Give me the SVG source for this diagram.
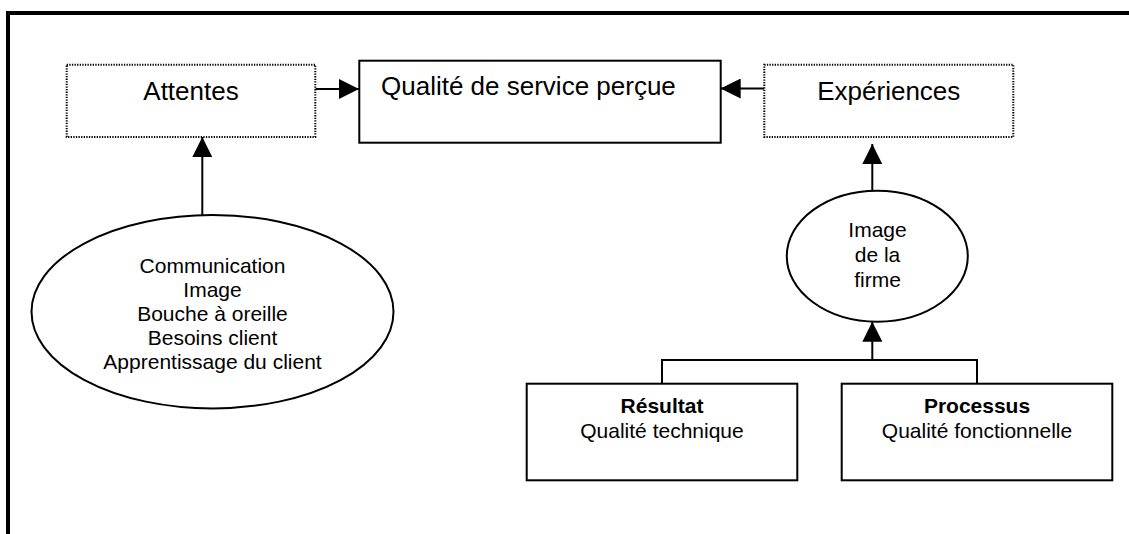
<svg xmlns="http://www.w3.org/2000/svg" width="1129" height="534" viewBox="0 0 1129 534">
  <style>
    text { font-family: "Liberation Sans", Arial, sans-serif; fill: #000; }
    .big { font-size: 26px; }
    .small { font-size: 21px; }
    .bold { font-weight: bold; }
    .mid { text-anchor: middle; }
    .dotted { fill: #fff; stroke: #000; stroke-width: 2; stroke-dasharray: 1.3 1.3; }
    .solid { fill: #fff; stroke: #000; stroke-width: 2; }
    .conn { fill: none; stroke: #000; stroke-width: 2; }
  </style>
  <defs>
    <marker id="arrow" markerUnits="userSpaceOnUse" markerWidth="20" markerHeight="20" refX="20" refY="10" orient="auto">
      <path d="M0,0 L20,10 L0,20 z" fill="#000"/>
    </marker>
  </defs>
  <rect x="0" y="0" width="1129" height="534" fill="#fff"/>
  <path d="M8,534 V13 H1129" fill="none" stroke="#000" stroke-width="4" stroke-linejoin="miter"/>

  <g id="connectors">
    <line class="conn" x1="315.3" y1="89" x2="359" y2="89" marker-end="url(#arrow)"/>
    <line class="conn" x1="764.3" y1="88.5" x2="720.7" y2="88.5" marker-end="url(#arrow)"/>
    <line class="conn" x1="202.3" y1="216" x2="202.3" y2="137" marker-end="url(#arrow)"/>
    <line class="conn" x1="872.3" y1="190.7" x2="872.3" y2="144" marker-end="url(#arrow)"/>
    <path class="conn" d="M662,383.7 V360 H977 V383.7"/>
    <line class="conn" x1="872.3" y1="360" x2="872.3" y2="321.7" marker-end="url(#arrow)"/>
  </g>

  <g id="attentes">
    <rect class="dotted" x="66.7" y="64.7" width="248.6" height="72.3"/>
    <text class="big mid" x="191" y="100">Attentes</text>
  </g>

  <g id="qualite">
    <rect class="solid" x="359.3" y="60.7" width="361.4" height="82" stroke-width="2.5"/>
    <text class="big" x="381" y="95">Qualité de service perçue</text>
  </g>

  <g id="experiences">
    <rect class="dotted" x="764.3" y="64.7" width="249" height="72.3"/>
    <text class="big mid" x="888.8" y="100">Expériences</text>
  </g>

  <g id="sources">
    <ellipse class="solid" cx="212.5" cy="311.7" rx="181" ry="96.7"/>
    <text class="small mid" x="212.5" y="272.5">Communication</text>
    <text class="small mid" x="212.5" y="296.7">Image</text>
    <text class="small mid" x="212.5" y="320.9">Bouche à oreille</text>
    <text class="small mid" x="212.5" y="345.1">Besoins client</text>
    <text class="small mid" x="212.5" y="369.3">Apprentissage du client</text>
  </g>

  <g id="image-firme">
    <ellipse class="solid" cx="877.3" cy="256.2" rx="90.5" ry="65.5"/>
    <text class="small mid" x="877.5" y="236.7">Image</text>
    <text class="small mid" x="877.5" y="261.7">de la</text>
    <text class="small mid" x="877.5" y="286.7">firme</text>
  </g>

  <g id="resultat">
    <rect class="solid" x="526.7" y="383.7" width="270.6" height="96.6"/>
    <text class="small mid bold" x="662" y="413.3">Résultat</text>
    <text class="small mid" x="662" y="438.3">Qualité technique</text>
  </g>

  <g id="processus">
    <rect class="solid" x="841.7" y="383.7" width="270.6" height="96.6"/>
    <text class="small mid bold" x="977" y="413.3">Processus</text>
    <text class="small mid" x="977" y="438.3">Qualité fonctionnelle</text>
  </g>
</svg>
